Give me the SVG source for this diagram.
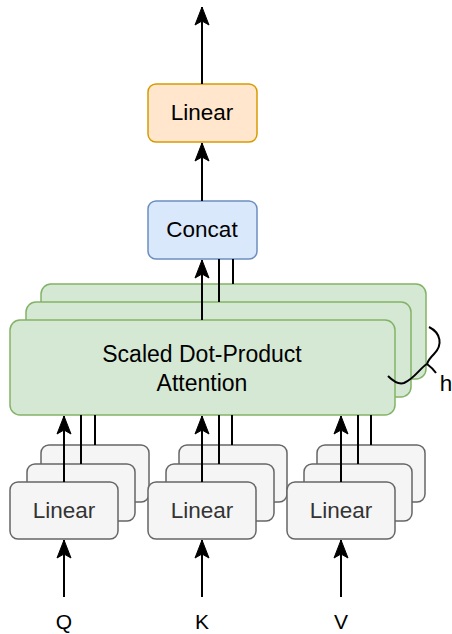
<svg xmlns="http://www.w3.org/2000/svg" width="452" height="634" viewBox="0 0 452 634">
  <style>
    .lbl { font-family: "Liberation Sans", Arial, sans-serif; font-size: 22.5px; text-anchor: middle; fill: #000; }
    .big { font-size: 23px; }
    .io { font-size: 21px; }
    .gray { fill: #333; }
    .lin { fill: #f5f5f5; stroke: #666666; stroke-width: 1.5; }
    .att { fill: #d5e8d4; stroke: #82b366; stroke-width: 1.5; }
    .wire { stroke: #000; stroke-width: 2; fill: none; }
    .arrow { stroke: #000; stroke-width: 2; fill: none; marker-end: url(#head); }
  </style>
  <defs>
    <marker id="head" markerUnits="userSpaceOnUse" markerWidth="20" markerHeight="16" viewBox="-19 -8 20 16" refX="0" refY="0" orient="auto">
      <path d="M0,0 L-18,-7 L-14,0 L-18,7 Z" fill="#000" stroke="#000" stroke-width="1"/>
    </marker>
  </defs>

  <!-- stacked attention heads -->
  <g id="attention">
    <rect class="att" x="41" y="284" width="385" height="95" rx="10"/>
    <rect class="att" x="26" y="302" width="385" height="95" rx="10"/>
    <rect class="att" x="10" y="320" width="385" height="95" rx="10"/>
    <text class="lbl big" x="202" y="362">Scaled Dot-Product</text>
    <text class="lbl big" x="202" y="391">Attention</text>
  </g>

  <!-- linear projections for Q, K, V -->
  <g id="linear-q">
    <rect class="lin" x="41" y="445" width="108" height="57" rx="8"/>
    <rect class="lin" x="27" y="464" width="108" height="57" rx="8"/>
    <rect class="lin" x="10" y="482" width="108" height="57" rx="8"/>
    <text class="lbl gray" x="64" y="518">Linear</text>
  </g>
  <g id="linear-k">
    <rect class="lin" x="179" y="445" width="108" height="57" rx="8"/>
    <rect class="lin" x="166" y="464" width="108" height="57" rx="8"/>
    <rect class="lin" x="148" y="482" width="108" height="57" rx="8"/>
    <text class="lbl gray" x="202" y="518">Linear</text>
  </g>
  <g id="linear-v">
    <rect class="lin" x="317" y="445" width="108" height="57" rx="8"/>
    <rect class="lin" x="304" y="464" width="108" height="57" rx="8"/>
    <rect class="lin" x="287" y="482" width="108" height="57" rx="8"/>
    <text class="lbl gray" x="341" y="518">Linear</text>
  </g>

  <g id="concat">
    <rect x="148" y="201" width="109" height="58" rx="8" fill="#dae8fc" stroke="#6c8ebf" stroke-width="1.5"/>
    <text class="lbl" x="202" y="237">Concat</text>
  </g>

  <g id="linear-out">
    <rect x="148" y="84" width="109" height="58" rx="8" fill="#ffe6cc" stroke="#d79b00" stroke-width="1.5"/>
    <text class="lbl" x="202" y="120">Linear</text>
  </g>

  <!-- inputs -->
  <g id="inputs">
    <text class="lbl io" x="64" y="629">Q</text>
    <text class="lbl io" x="202" y="629">K</text>
    <text class="lbl io" x="341" y="629">V</text>
  </g>

  <!-- head count brace -->
  <g id="heads">
    <path class="wire" d="M429,327 C441,333 443,345 434,354 C430,358 428,361 427,364 C431,367 434,370 436,373 M427,364 C420,368 415,378 404,383 C398,385 393,381 388,376" stroke-width="1.5"/>
    <text class="lbl" x="446" y="391">h</text>
  </g>

  <g id="connectors">
    <!-- inputs into linear layers -->
    <line class="arrow" x1="64" y1="597" x2="64" y2="540"/>
    <line class="arrow" x1="202" y1="597" x2="202" y2="540"/>
    <line class="arrow" x1="341" y1="597" x2="341" y2="540"/>
    <!-- linear layers into attention -->
    <line class="arrow" x1="64" y1="482" x2="64" y2="416"/>
    <line class="wire" x1="81" y1="464" x2="81" y2="415"/>
    <line class="wire" x1="95" y1="445" x2="95" y2="415"/>
    <line class="arrow" x1="202" y1="482" x2="202" y2="416"/>
    <line class="wire" x1="219" y1="464" x2="219" y2="415"/>
    <line class="wire" x1="232" y1="445" x2="232" y2="415"/>
    <line class="arrow" x1="341" y1="482" x2="341" y2="416"/>
    <line class="wire" x1="358" y1="464" x2="358" y2="415"/>
    <line class="wire" x1="371" y1="445" x2="371" y2="415"/>
    <!-- heads into concat -->
    <line class="arrow" x1="202" y1="320" x2="202" y2="260"/>
    <line class="wire" x1="219" y1="302" x2="219" y2="259"/>
    <line class="wire" x1="233" y1="284" x2="233" y2="259"/>
    <!-- concat to output -->
    <line class="arrow" x1="202" y1="201" x2="202" y2="143"/>
    <line class="arrow" x1="202" y1="84" x2="202" y2="7"/>
  </g>
</svg>
